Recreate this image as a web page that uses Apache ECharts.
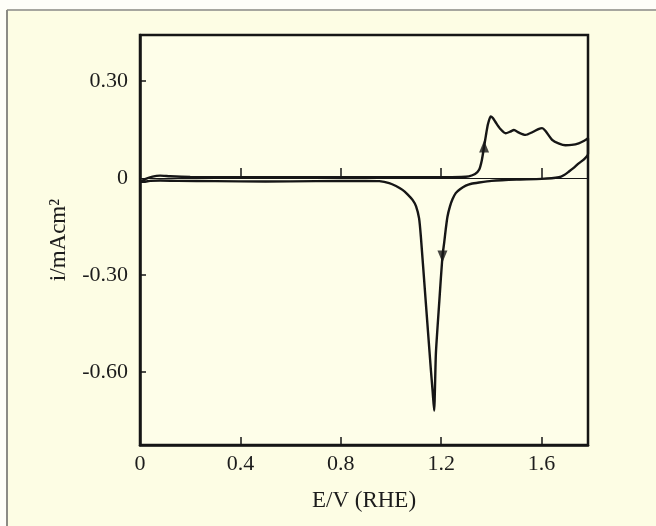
<!DOCTYPE html>
<html>
<head>
<meta charset="utf-8">
<script src="https://cdn.jsdelivr.net/npm/echarts@6/dist/echarts.min.js"></script>
<style>
  html, body { margin: 0; padding: 0; background: #fefef6; }
  #chart { width: 656px; height: 526px; }
</style>
</head>
<body>
<div id="chart"></div>
<script>
// Cyclic voltammogram: anodic (forward) and cathodic (reverse) sweeps
const forwardE = [0, 0.02, 0.05, 0.08, 0.12, 0.2, 0.4, 0.6, 0.8, 1.0, 1.2, 1.28, 1.31, 1.335, 1.351, 1.362, 1.371, 1.378, 1.386, 1.397, 1.405, 1.417, 1.435, 1.457, 1.475, 1.49, 1.51, 1.536, 1.565, 1.59, 1.602, 1.615, 1.642, 1.67, 1.695, 1.72, 1.748, 1.77, 1.785];
const forwardI = [-0.012, -0.004, 0.004, 0.007, 0.005, 0.003, 0.002, 0.002, 0.002, 0.002, 0.002, 0.003, 0.005, 0.012, 0.025, 0.055, 0.097, 0.13, 0.165, 0.19, 0.186, 0.172, 0.152, 0.138, 0.143, 0.148, 0.14, 0.133, 0.142, 0.152, 0.154, 0.146, 0.118, 0.106, 0.101, 0.102, 0.107, 0.115, 0.123];

const reverseE = [1.785, 1.77, 1.748, 1.728, 1.708, 1.69, 1.669, 1.6, 1.5, 1.4, 1.351, 1.32, 1.298, 1.275, 1.258, 1.245, 1.235, 1.225, 1.218, 1.212, 1.205, 1.192, 1.179, 1.172, 1.166, 1.159, 1.139, 1.119, 1.112, 1.1, 1.086, 1.065, 1.046, 1.02, 0.993, 0.954, 0.9, 0.7, 0.5, 0.3, 0.15, 0.08, 0.04, 0.015, 0];
const reverseI = [0.075, 0.058, 0.045, 0.031, 0.019, 0.009, 0.002, -0.003, -0.005, -0.009, -0.014, -0.018, -0.024, -0.035, -0.047, -0.066, -0.088, -0.12, -0.16, -0.2, -0.243, -0.388, -0.542, -0.72, -0.66, -0.594, -0.388, -0.181, -0.125, -0.088, -0.068, -0.05, -0.037, -0.025, -0.016, -0.01, -0.009, -0.01, -0.011, -0.01, -0.009, -0.008, -0.009, -0.012, -0.012];

// Sweep-direction arrows sitting on the curve
const arrowE = [1.371, 1.205];
const arrowI = [0.097, -0.243];
const arrowRotate = [0, 180];

const xTicks = [0.4, 0.8, 1.2, 1.6];
const xLabels = [0, 0.4, 0.8, 1.2, 1.6];
const yTicks = [0.3, -0.3, -0.6];
const yLabels = [0.3, 0, -0.3, -0.6];

const ink = '#161616';
const textInk = '#1c1c1c';
const serif = '"Liberation Serif", "DejaVu Serif", serif';

const loop = forwardE.map((e, k) => [e, forwardI[k]])
  .concat(reverseE.map((e, k) => [e, reverseI[k]]));

const chart = echarts.init(document.getElementById('chart'));
chart.setOption({
  backgroundColor: '#fdfde4',
  animation: false,
  graphic: [
    { type: 'line', shape: { x1: 7, y1: 10, x2: 7, y2: 526 }, style: { stroke: '#666', lineWidth: 1.5 } },
    { type: 'line', shape: { x1: 7, y1: 10, x2: 656, y2: 10 }, style: { stroke: '#888', lineWidth: 1.5 } },
    { type: 'rect', shape: { x: 0, y: 0, width: 656, height: 9 }, style: { fill: '#fefef8' } },
    { type: 'rect', shape: { x: 0, y: 0, width: 6, height: 526 }, style: { fill: '#fefef8' } }
  ],
  grid: {
    left: 140, top: 35, right: 68, bottom: 81,
    show: true, borderColor: ink, borderWidth: 2.5, backgroundColor: '#fefee9'
  },
  xAxis: [
    {
      type: 'value', min: 0, max: 1.785, position: 'bottom',
      axisLine: { onZero: false, lineStyle: { color: ink, width: 2.5 } },
      axisTick: { inside: true, length: 8, customValues: xTicks, lineStyle: { color: ink, width: 1.5 } },
      axisLabel: {
        customValues: xLabels, margin: 8, color: textInk, fontFamily: serif, fontSize: 22,
        formatter: v => (v === 0 ? '0' : v.toFixed(1))
      },
      splitLine: { show: false },
      name: 'E/V (RHE)', nameLocation: 'middle', nameGap: 44,
      nameTextStyle: { color: textInk, fontFamily: serif, fontSize: 23 }
    },
    {
      // zero-current baseline with its own upward ticks
      type: 'value', min: 0, max: 1.785, position: 'bottom',
      axisLine: { onZero: true, lineStyle: { color: ink, width: 1 } },
      axisTick: { inside: true, length: 10, customValues: xTicks, lineStyle: { color: ink, width: 1.5 } },
      axisLabel: { show: false },
      splitLine: { show: false }
    }
  ],
  yAxis: {
    type: 'value', min: -0.826, max: 0.442,
    axisLine: { onZero: false, lineStyle: { color: ink, width: 2.5 } },
    axisTick: { inside: true, length: 6, customValues: yTicks, lineStyle: { color: ink, width: 1.5 } },
    axisLabel: {
      customValues: yLabels, margin: 12, color: textInk, fontFamily: serif, fontSize: 22,
      formatter: v => (v === 0 ? '0' : v.toFixed(2))
    },
    splitLine: { show: false },
    name: 'i/mAcm\u00B2', nameLocation: 'middle', nameGap: 70, nameRotate: 90,
    nameTextStyle: { color: textInk, fontFamily: serif, fontSize: 23 }
  },
  series: [
    {
      type: 'line', xAxisIndex: 0, data: loop, symbol: 'none', smooth: 0.2,
      lineStyle: { color: ink, width: 2.4 }, z: 3
    },
    {
      type: 'scatter', xAxisIndex: 0,
      data: arrowE.map((e, k) => ({ value: [e, arrowI[k]], symbolRotate: arrowRotate[k] })),
      symbol: 'triangle', symbolSize: [10, 12],
      itemStyle: { color: ink }, z: 4
    }
  ]
});
</script>
</body>
</html>
